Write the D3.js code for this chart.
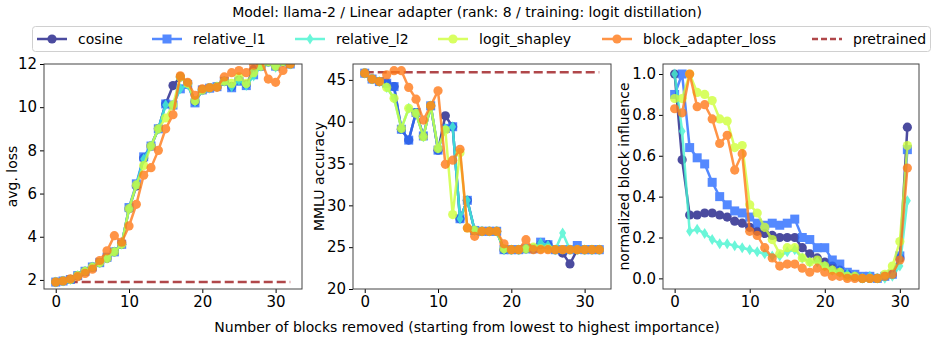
<!DOCTYPE html>
<html>
<head>
<meta charset="UTF-8">
<title>Block removal</title>
<script src="https://cdn.jsdelivr.net/npm/d3@7"></script>
<style>
  body { margin: 0; background: #fff; }
  svg text { font-family: "DejaVu Sans", sans-serif; fill: #000; }
</style>
</head>
<body>
<svg id="chart" width="934" height="341"></svg>
<script>
// ---- data ----
const methods = ["cosine", "relative_l1", "relative_l2", "logit_shapley", "block_adapter_loss"];

// avg. loss (x = 0..32)
const lossCosine = [1.9,1.95,2.02,2.2,2.4,2.6,2.8,3.0,3.3,3.65,5.3,6.35,7.65,8.2,9.0,10.15,11.0,11.4,11.1,10.25,10.8,10.9,10.95,11.2,10.95,11.25,11.05,11.75,11.9,12.1,11.9,12.1,12.0];
const lossL1 = [1.9,1.95,2.02,2.2,2.4,2.6,2.8,3.05,3.3,3.65,5.35,6.45,7.7,8.2,9.0,10.15,10.1,10.85,11.05,10.2,10.8,10.88,10.95,11.2,10.9,11.2,11.0,11.5,11.9,12.1,11.9,12.1,12.0];
const lossL2 = [1.9,1.95,2.02,2.2,2.4,2.6,2.8,3.0,3.3,3.65,5.3,6.4,7.6,8.2,9.0,10.1,10.1,10.85,11.05,10.25,10.8,10.88,10.95,11.2,10.95,11.25,11.0,11.45,11.9,12.1,11.85,12.1,12.0];
const lossLogit = [1.9,1.95,2.02,2.2,2.4,2.6,2.8,3.0,3.3,3.65,5.3,6.4,7.3,8.2,9.0,9.5,10.1,11.4,11.1,10.3,10.8,10.9,10.95,11.2,11.1,11.4,11.1,11.6,11.9,12.1,11.9,12.1,12.0];
const lossBlock = [1.9,1.95,2.05,2.15,2.3,2.5,2.9,3.35,4.05,3.75,4.5,5.5,6.85,7.2,8.0,9.0,9.65,11.45,11.15,10.55,10.85,10.9,10.92,11.4,11.6,11.7,11.6,11.95,12.2,11.3,11.15,11.7,12.0];
const lossPretrained = 1.9;

// MMLU accuracy (x = 0..32)
const mmluCosine = [45.8,45.1,44.8,44.6,44.2,39.1,37.8,41.1,38.3,41.9,36.6,40.7,39.4,28.4,30.6,27.0,26.9,26.9,26.9,24.7,24.7,24.7,24.8,24.8,25.3,25.3,24.7,24.3,23.0,24.7,24.7,24.7,24.7];
const mmluL1 = [45.8,45.1,44.8,44.6,44.2,39.1,37.8,41.1,38.3,41.9,36.6,39.2,39.4,28.4,30.6,27.0,26.9,26.9,26.9,24.7,24.7,24.7,24.8,24.8,25.6,25.3,24.7,24.7,24.7,25.2,24.7,24.7,24.7];
const mmluL2 = [45.8,45.1,44.8,44.1,42.8,39.2,41.6,41.0,38.2,41.9,36.8,39.2,39.4,28.4,30.6,27.0,26.9,26.9,26.9,24.7,24.7,24.7,24.8,24.8,25.5,25.2,24.7,26.7,24.7,24.7,24.7,24.7,24.7];
const mmluLogit = [45.8,45.1,44.8,44.1,42.8,39.2,41.6,41.0,38.2,41.9,36.8,39.0,28.9,36.3,27.3,27.0,26.9,26.9,26.9,24.8,24.7,24.7,24.8,25.0,24.8,24.8,24.7,24.7,24.7,24.7,24.7,24.7,24.7];
const mmluBlock = [45.8,45.1,44.8,45.6,46.1,46.1,44.1,42.7,40.2,41.9,43.7,34.9,35.4,36.7,27.3,26.3,26.9,26.9,26.9,25.4,24.7,24.7,25.9,24.7,24.7,24.7,24.7,24.7,24.7,24.7,24.7,24.7,24.7];
const mmluPretrained = 45.9;

// normalized block influence (x = 0..31)
const inflCosine = [1.0,0.58,0.31,0.31,0.32,0.32,0.31,0.30,0.28,0.27,0.25,0.23,0.22,0.21,0.20,0.20,0.20,0.15,0.12,0.10,0.08,0.06,0.04,0.02,0.01,0.0,0.0,0.0,0.01,0.02,0.10,0.74];
const inflL1 = [0.9,1.0,0.64,0.59,0.56,0.47,0.40,0.36,0.33,0.32,0.30,0.27,0.26,0.27,0.26,0.27,0.29,0.20,0.19,0.15,0.15,0.09,0.07,0.03,0.02,0.01,0.01,0.0,0.01,0.02,0.11,0.63];
const inflL2 = [1.0,0.72,0.23,0.24,0.22,0.19,0.17,0.17,0.16,0.15,0.14,0.13,0.12,0.11,0.11,0.13,0.14,0.10,0.08,0.08,0.06,0.04,0.03,0.02,0.01,0.0,0.01,0.0,0.0,0.01,0.06,0.38];
const inflLogit = [0.88,0.88,1.0,0.91,0.90,0.87,0.78,0.77,0.64,0.65,0.36,0.32,0.25,0.19,0.12,0.15,0.15,0.10,0.08,0.09,0.06,0.04,0.03,0.01,0.01,0.0,0.0,0.0,0.02,0.06,0.18,0.65];
const inflBlock = [0.83,0.81,1.0,0.84,0.85,0.78,0.66,0.70,0.53,0.61,0.23,0.21,0.15,0.10,0.06,0.07,0.07,0.05,0.03,0.05,0.03,0.01,0.01,0.0,0.0,0.0,0.0,0.0,0.01,0.02,0.09,0.54];

const colors = ["#1f1f88", "#2a6cff", "#45f5d0", "#cfff3a", "#ff7a18"];
const markers = ["circle", "square", "diamond", "circle", "circle"];
const pretrainedColor = "#b0474a";

const svg = d3.select("#chart");
const plotTop = 64, plotBottom = 289;

const panels = [
  { left: 44, right: 302, xDomain: [-1.6, 33.6], yDomain: [1.58, 12], yTicks: [2,4,6,8,10,12], fmt: d3.format("d"),
    label: "avg. loss", labelX: 12, series: [lossCosine, lossL1, lossL2, lossLogit, lossBlock], pretrained: lossPretrained },
  { left: 353, right: 611, xDomain: [-1.6, 33.6], yDomain: [20, 46.9], yTicks: [20,25,30,35,40,45], fmt: d3.format("d"),
    label: "MMLU accuracy", labelX: 319, series: [mmluCosine, mmluL1, mmluL2, mmluLogit, mmluBlock], pretrained: mmluPretrained },
  { left: 663, right: 919, xDomain: [-1.55, 32.55], yDomain: [-0.052, 1.049], yTicks: [0,0.2,0.4,0.6,0.8,1.0], fmt: d3.format(".1f"),
    label: "normalized block influence", labelX: 624, series: [inflCosine, inflL1, inflL2, inflLogit, inflBlock], pretrained: null }
];

function drawMarker(g, type, cx, cy, color) {
  if (type === "square") {
    g.append("rect").attr("x", cx - 4.5).attr("y", cy - 4.5).attr("width", 9).attr("height", 9).attr("fill", color);
  } else if (type === "diamond") {
    g.append("path").attr("d", `M${cx},${cy - 5.5}L${cx + 3.5},${cy}L${cx},${cy + 5.5}L${cx - 3.5},${cy}Z`).attr("fill", color);
  } else {
    g.append("circle").attr("cx", cx).attr("cy", cy).attr("r", 4.6).attr("fill", color);
  }
}

panels.forEach((p, pi) => {
  const x = d3.scaleLinear().domain(p.xDomain).range([p.left, p.right]);
  const y = d3.scaleLinear().domain(p.yDomain).range([plotBottom, plotTop]);

  svg.append("clipPath").attr("id", "clip" + pi)
    .append("rect").attr("x", p.left).attr("y", plotTop).attr("width", p.right - p.left).attr("height", plotBottom - plotTop);

  const plot = svg.append("g").attr("clip-path", `url(#clip${pi})`);

  // pretrained reference
  if (p.pretrained !== null) {
    plot.append("line")
      .attr("x1", x(0)).attr("x2", x(32))
      .attr("y1", y(p.pretrained)).attr("y2", y(p.pretrained))
      .attr("stroke", pretrainedColor).attr("stroke-width", 2.5)
      .attr("stroke-dasharray", "9,4");
  }

  const line = d3.line().x((d, i) => x(i)).y(d => y(d));
  p.series.forEach((vals, si) => {
    const g = plot.append("g").attr("opacity", 0.8);
    g.append("path").datum(vals)
      .attr("fill", "none").attr("stroke", colors[si]).attr("stroke-width", 2.5)
      .attr("d", line);
    vals.forEach((v, i) => drawMarker(g, markers[si], x(i), y(v), colors[si]));
  });

  // axes
  svg.append("g").attr("transform", `translate(0,${plotBottom})`)
    .call(d3.axisBottom(x).tickValues([0,10,20,30]).tickSize(4).tickPadding(3))
    .call(g => g.select(".domain").remove())
    .selectAll("text").attr("font-size", 15);
  svg.append("g").attr("transform", `translate(${p.left},0)`)
    .call(d3.axisLeft(y).tickValues(p.yTicks).tickFormat(p.fmt).tickSize(4).tickPadding(3))
    .call(g => g.select(".domain").remove())
    .selectAll("text").attr("font-size", 15);

  svg.append("rect")
    .attr("x", p.left).attr("y", plotTop).attr("width", p.right - p.left).attr("height", plotBottom - plotTop)
    .attr("fill", "none").attr("stroke", "#444").attr("stroke-width", 1);

  svg.append("text")
    .attr("transform", `translate(${p.labelX},${(plotTop + plotBottom) / 2}) rotate(-90)`)
    .attr("text-anchor", "middle").attr("dominant-baseline", "central")
    .attr("font-size", 14).text(p.label);
});

// title and x label
svg.append("text").attr("x", 467).attr("y", 17).attr("text-anchor", "middle")
  .attr("font-size", 14).text("Model: llama-2 / Linear adapter (rank: 8 / training: logit distillation)");
svg.append("text").attr("x", 467).attr("y", 332).attr("text-anchor", "middle")
  .attr("font-size", 14).text("Number of blocks removed (starting from lowest to highest importance)");

// legend
const legend = svg.append("g");
legend.append("rect").attr("x", 32.5).attr("y", 26.5).attr("width", 898).attr("height", 25).attr("rx", 3)
  .attr("fill", "#fff").attr("stroke", "#d0d0d0");
const legendX = [37, 152, 295, 438, 602];
methods.forEach((m, i) => {
  const g = legend.append("g").attr("opacity", 0.8);
  g.append("line").attr("x1", legendX[i]).attr("x2", legendX[i] + 30).attr("y1", 39).attr("y2", 39)
    .attr("stroke", colors[i]).attr("stroke-width", 2.5);
  drawMarker(g, markers[i], legendX[i] + 15, 39, colors[i]);
  legend.append("text").attr("x", legendX[i] + 41).attr("y", 44).attr("font-size", 14).text(m);
});
legend.append("line").attr("x1", 812).attr("x2", 842).attr("y1", 39).attr("y2", 39)
  .attr("stroke", pretrainedColor).attr("stroke-width", 2.5).attr("stroke-dasharray", "6,3");
legend.append("text").attr("x", 853).attr("y", 44).attr("font-size", 14).text("pretrained");
</script>
</body>
</html>
